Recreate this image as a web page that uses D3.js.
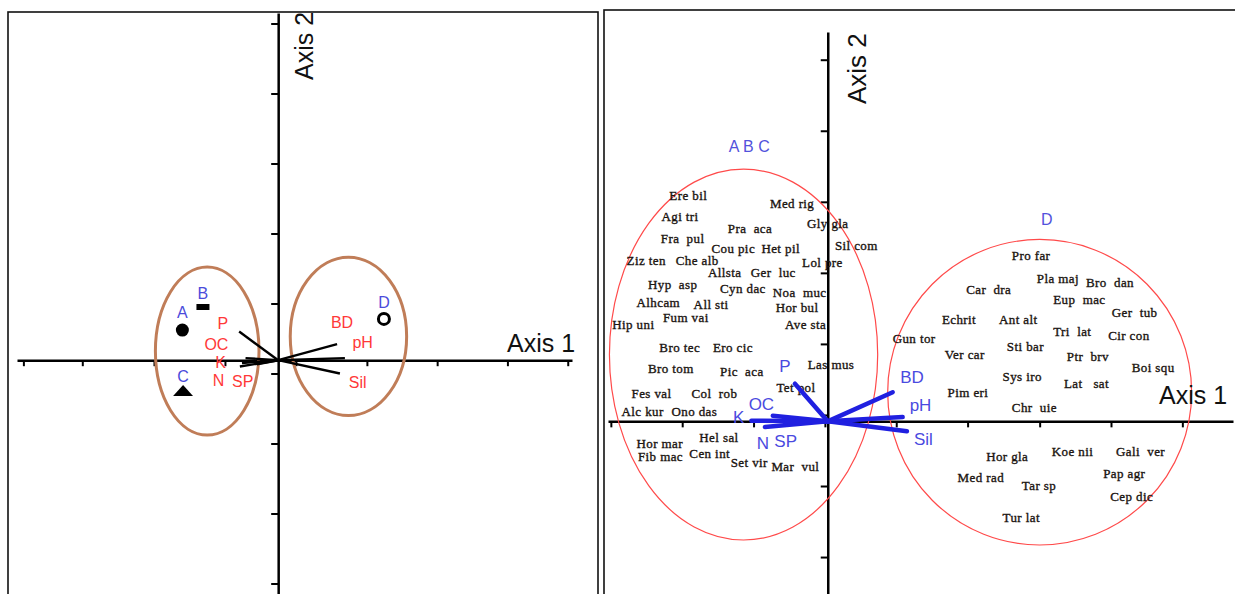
<!DOCTYPE html>
<html>
<head>
<meta charset="utf-8">
<script src="https://cdn.jsdelivr.net/npm/d3@7"></script>
<style>
  body { margin: 0; background: #fff; }
  svg { display: block; }
</style>
</head>
<body>
<script>
// left panel: sites, soil vectors, groups (score units, origin 0)
var sites = [
  {name: "A", x: -1.35, y: 0.43, lx: -1.35, ly: 0.69, shape: "circle"},
  {name: "B", x: -1.06, y: 0.76, lx: -1.06, ly: 0.96, shape: "rect"},
  {name: "C", x: -1.34, y: -0.46, lx: -1.34, ly: -0.23, shape: "triangle"},
  {name: "D", x: 1.49, y: 0.59, lx: 1.49, ly: 0.83, shape: "ring"}
];
var vectorsLeft = [
  {name: "P",   x: -0.55, y: 0.41,  lx: -0.78, ly: 0.53},
  {name: "OC",  x: -0.46, y: 0.03,  lx: -0.87, ly: 0.23},
  {name: "K",   x: -0.51, y: -0.04, lx: -0.81, ly: -0.03},
  {name: "N",   x: -0.54, y: -0.09, lx: -0.84, ly: -0.29},
  {name: "SP",  x: -0.30, y: -0.06, lx: -0.50, ly: -0.30},
  {name: "BD",  x: 0.83,  y: 0.23,  lx: 0.90,  ly: 0.54},
  {name: "pH",  x: 0.94,  y: 0.03,  lx: 1.19,  ly: 0.25},
  {name: "Sil", x: 0.87,  y: -0.19, lx: 1.12,  ly: -0.31}
];
var groupsLeft = [
  {cx: -1.0, cy: 0.13, rx: 0.73, ry: 1.2},
  {cx: 0.99, cy: 0.34, rx: 0.82, ry: 1.13}
];
var ticksLX = [-3.59, -2.76, -1.75, -0.75, 0.25, 1.25, 2.24, 3.23, 4.08];
var ticksLY = [4.81, 3.81, 2.81, 1.81, 0.81, -0.19, -1.19, -2.19, -3.19];

// right panel: species, soil vectors, groups
var species = [
  ["Ere bil", -2.22, 3.18], ["Med rig", -0.81, 3.06], ["Agi tri", -2.33, 2.89],
  ["Pra  aca", -1.40, 2.72], ["Gly gla", -0.29, 2.78], ["Fra  pul", -2.34, 2.58],
  ["Cou pic", -1.63, 2.43], ["Het pil", -0.93, 2.43], ["Sil com", 0.10, 2.47],
  ["Ziz ten", -2.82, 2.26], ["Che alb", -2.13, 2.26], ["Lol pre", -0.36, 2.23],
  ["Allsta", -1.68, 2.09], ["Ger  luc", -1.08, 2.09], ["Hyp  asp", -2.52, 1.92],
  ["Cyn dac", -1.51, 1.87], ["Noa  muc", -0.77, 1.81], ["Alhcam", -2.68, 1.68],
  ["All sti", -1.88, 1.65], ["Hor bul", -0.73, 1.60], ["Fum vai", -2.31, 1.46],
  ["Hip uni", -3.02, 1.37], ["Ave sta", -0.60, 1.36], ["Bro tec", -2.36, 1.04],
  ["Ero cic", -1.61, 1.04], ["Bro tom", -2.52, 0.74], ["Pic  aca", -1.51, 0.70],
  ["Las mus", -0.28, 0.80], ["Tet pol", -0.72, 0.48], ["Fes val", -2.75, 0.39],
  ["Col  rob", -1.91, 0.39], ["Alc kur", -2.89, 0.14], ["Ono das", -2.19, 0.14],
  ["Hor mar", -2.68, -0.31], ["Hel sal", -1.80, -0.22], ["Fib mac", -2.66, -0.50],
  ["Cen int", -1.94, -0.45], ["Set vir", -1.36, -0.58], ["Mar  vul", -0.79, -0.63],
  ["Pro far", 2.58, 2.33], ["Pla maj", 2.93, 2.01], ["Bro  dan", 3.62, 1.95],
  ["Car  dra", 1.94, 1.85], ["Eup  mac", 3.16, 1.71], ["Ger  tub", 3.98, 1.53],
  ["Echrit", 1.60, 1.43], ["Ant alt", 2.40, 1.44], ["Tri  lat", 3.16, 1.26],
  ["Cir con", 3.93, 1.21], ["Gun tor", 0.91, 1.16], ["Ver car", 1.64, 0.94],
  ["Sti bar", 2.51, 1.05], ["Ptr  brv", 3.35, 0.91], ["Boi squ", 4.26, 0.76],
  ["Sys iro", 2.45, 0.63], ["Lat   sat", 3.31, 0.53], ["Pim eri", 1.68, 0.41],
  ["Chr  uie", 2.58, 0.20], ["Hor gla", 2.22, -0.50], ["Koe nii", 3.14, -0.42],
  ["Gali  ver", 4.04, -0.42], ["Med rad", 1.82, -0.79], ["Pap agr", 3.86, -0.73],
  ["Tar sp", 2.72, -0.90], ["Cep dic", 3.96, -1.05], ["Tur lat", 2.45, -1.35]
];
var vectorsRight = [
  {name: "P",   x: -0.46, y: 0.53,  lx: -0.60, ly: 0.78},
  {name: "OC",  x: -0.77, y: 0.08,  lx: -0.93, ly: 0.25},
  {name: "K",   x: -1.07, y: 0.01,  lx: -1.25, ly: 0.06},
  {name: "N",   x: -0.88, y: -0.08, lx: -0.91, ly: -0.31},
  {name: "SP",  x: -0.58, y: -0.01, lx: -0.59, ly: -0.27},
  {name: "BD",  x: 0.91,  y: 0.41,  lx: 1.18,  ly: 0.62},
  {name: "pH",  x: 1.05,  y: 0.06,  lx: 1.30,  ly: 0.23},
  {name: "Sil", x: 1.11,  y: -0.14, lx: 1.34,  ly: -0.24}
];
var groupsRight = [
  {name: "A B C", cx: -1.18, cy: 0.94, rx: 1.88, ry: 2.61, lx: -1.10, ly: 3.87},
  {name: "D", cx: 2.97, cy: 0.41, rx: 2.13, ry: 2.15, lx: 3.07, ly: 2.84}
];
var ticksRX = [-3.04, -2.04, -1.04, -0.04, 0.96, 1.96, 2.97, 3.97, 4.97];
var ticksRY = [5.09, 4.09, 3.09, 2.09, 1.09, 0.09, -0.91, -1.91];

var W = 1235, H = 594;
var svg = d3.select("body").append("svg")
            .attr("width", W).attr("height", H)
            .style("font-family", "Arial, 'Liberation Sans', sans-serif");

// ---------- left panel ----------
var xL = d3.scaleLinear().domain([-3.68, 4.14]).range([17, 572]);
var yL = d3.scaleLinear().domain([-3.34, 4.96]).range([594, 13]);

svg.append("rect")
   .attr("x", 8).attr("y", 12).attr("width", 590).attr("height", 600)
   .attr("fill", "none").attr("stroke", "#111").attr("stroke-width", 1.6);

var left = svg.append("g");

function styleAxis(g, w) {
  g.select(".domain").attr("stroke", "#000").attr("stroke-width", w);
  g.selectAll(".tick line").attr("stroke", "#000").attr("stroke-width", 2);
  g.selectAll(".tick text").remove();
}

left.append("g")
    .attr("transform", "translate(0," + yL(0) + ")")
    .call(d3.axisBottom(xL).tickValues(ticksLX).tickSize(6).tickSizeOuter(0).tickFormat(""))
    .call(styleAxis, 2.5);
left.append("g")
    .attr("transform", "translate(" + xL(0) + ",0)")
    .call(d3.axisLeft(yL).tickValues(ticksLY).tickSize(7).tickSizeOuter(0).tickFormat(""))
    .call(styleAxis, 2.5);

left.selectAll("ellipse").data(groupsLeft).enter().append("ellipse")
    .attr("cx", d => xL(d.cx)).attr("cy", d => yL(d.cy))
    .attr("rx", d => xL(d.rx) - xL(0)).attr("ry", d => yL(0) - yL(d.ry))
    .attr("fill", "none").attr("stroke", "#c07d58").attr("stroke-width", 3);

left.selectAll(".vec").data(vectorsLeft).enter().append("line")
    .attr("x1", xL(0)).attr("y1", yL(0))
    .attr("x2", d => xL(d.x)).attr("y2", d => yL(d.y))
    .attr("stroke", "#000").attr("stroke-width", 2.4);

left.selectAll(".vlab").data(vectorsLeft).enter().append("text")
    .attr("x", d => xL(d.lx)).attr("y", d => yL(d.ly))
    .attr("dy", "0.36em").attr("text-anchor", "middle")
    .attr("font-size", 16).attr("fill", "#ff3838")
    .text(d => d.name);

sites.forEach(function(s) {
  var cx = xL(s.x), cy = yL(s.y);
  if (s.shape === "circle") {
    left.append("circle").attr("cx", cx).attr("cy", cy).attr("r", 6.5).attr("fill", "#000");
  } else if (s.shape === "rect") {
    left.append("rect").attr("x", cx - 6.5).attr("y", cy - 3).attr("width", 13).attr("height", 6).attr("fill", "#000");
  } else if (s.shape === "triangle") {
    left.append("path").attr("d", d3.symbol(d3.symbolTriangle, 110)())
        .attr("transform", "translate(" + cx + "," + cy + ") scale(1.25,0.8)").attr("fill", "#000");
  } else {
    left.append("circle").attr("cx", cx).attr("cy", cy).attr("r", 5.5)
        .attr("fill", "none").attr("stroke", "#000").attr("stroke-width", 3);
  }
  left.append("text")
      .attr("x", xL(s.lx)).attr("y", yL(s.ly)).attr("dy", "0.36em")
      .attr("text-anchor", "middle").attr("font-size", 16).attr("fill", "#4b4bdb")
      .text(s.name);
});

left.append("text").attr("x", 507).attr("y", 352)
    .attr("font-size", 25).attr("fill", "#111").text("Axis 1");
left.append("text").attr("transform", "translate(313,80) rotate(-90)")
    .attr("font-size", 25).attr("fill", "#111").text("Axis 2");

// ---------- right panel ----------
var xR = d3.scaleLinear().domain([-3.08, 5.68]).range([608, 1233]);
var yR = d3.scaleLinear().domain([-2.43, 5.48]).range([594, 32]);

svg.append("rect")
   .attr("x", 604).attr("y", 10).attr("width", 640).attr("height", 600)
   .attr("fill", "none").attr("stroke", "#111").attr("stroke-width", 1.6);

var right = svg.append("g");

right.append("g")
     .attr("transform", "translate(0," + yR(0) + ")")
     .call(d3.axisBottom(xR).tickValues(ticksRX).tickSize(6).tickSizeOuter(0).tickFormat(""))
     .call(styleAxis, 2.5);
right.append("g")
     .attr("transform", "translate(" + xR(0) + ",0)")
     .call(d3.axisLeft(yR).tickValues(ticksRY).tickSize(7).tickSizeOuter(0).tickFormat(""))
     .call(styleAxis, 2.5);

right.selectAll("ellipse").data(groupsRight).enter().append("ellipse")
     .attr("cx", d => xR(d.cx)).attr("cy", d => yR(d.cy))
     .attr("rx", d => xR(d.rx) - xR(0)).attr("ry", d => yR(0) - yR(d.ry))
     .attr("fill", "none").attr("stroke", "#ff4a4a").attr("stroke-width", 1.2);

right.selectAll(".glab").data(groupsRight).enter().append("text")
     .attr("x", d => xR(d.lx)).attr("y", d => yR(d.ly)).attr("dy", "0.36em")
     .attr("text-anchor", "middle").attr("font-size", 16).attr("fill", "#5252dc")
     .style("white-space", "pre")
     .text(d => d.name);

// species names, slightly thickened like the scanned original
right.selectAll(".sp").data(species).enter().append("text")
     .attr("x", d => xR(d[1])).attr("y", d => yR(d[2])).attr("dy", "0.35em")
     .attr("font-family", "'Liberation Serif', 'Times New Roman', serif")
     .attr("font-size", 13).attr("letter-spacing", 0.4).attr("fill", "#1a1410")
     .attr("stroke", "#1a1410").attr("stroke-width", 0.35)
     .style("white-space", "pre")
     .text(d => d[0]);

right.selectAll(".vec").data(vectorsRight).enter().append("line")
     .attr("x1", xR(0)).attr("y1", yR(0))
     .attr("x2", d => xR(d.x)).attr("y2", d => yR(d.y))
     .attr("stroke", "#2020e0").attr("stroke-width", 4.5).attr("stroke-linecap", "round");

right.selectAll(".vlab").data(vectorsRight).enter().append("text")
     .attr("x", d => xR(d.lx)).attr("y", d => yR(d.ly)).attr("dy", "0.36em")
     .attr("text-anchor", "middle").attr("font-size", 17).attr("fill", "#4a4ae0")
     .text(d => d.name);

right.append("text").attr("x", 1159).attr("y", 404)
     .attr("font-size", 25).attr("fill", "#111").text("Axis 1");
right.append("text").attr("transform", "translate(866,104) rotate(-90)")
     .attr("font-size", 26).attr("fill", "#111").text("Axis 2");
</script>
</body>
</html>
